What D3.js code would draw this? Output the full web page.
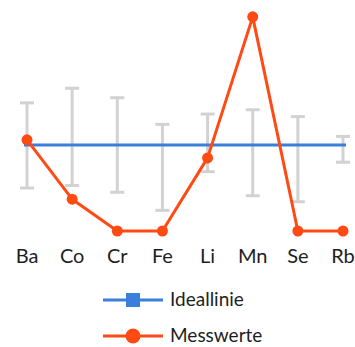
<!DOCTYPE html>
<html>
<head>
<meta charset="utf-8">
<script src="https://cdn.jsdelivr.net/npm/d3@7"></script>
<style>
  body { margin: 0; background: #fff; }
  text { font-family: "Lato", "Noto Sans", sans-serif; fill: #1e1e1e; }
</style>
</head>
<body>
<script>
"use strict"

/* elementi e valori */
const elementi = ["Ba", "Co", "Cr", "Fe", "Li", "Mn", "Se", "Rb"];
const ideale = [1, 1, 1, 1, 1, 1, 1, 1];
const misure = [1.06, 0.37, 0, 0, 0.85, 2.49, 0, 0];
const erroreAlto = [1.49, 1.66, 1.55, 1.24, 1.36, 1.41, 1.33, 1.10];
const erroreBasso = [0.50, 0.53, 0.45, 0.24, 0.69, 0.41, 0.34, 0.80];
const legenda = ["Ideallinie", "Messwerte"];

const blu = "#3a7fdc";
const rosso = "#ff4a14";

const svg = d3.select("body").append("svg")
    .attr("width", 355)
    .attr("height", 347);

const x = d3.scalePoint()
    .domain(elementi)
    .range([27, 343]);

const y = d3.scaleLinear()
    .domain([0, 2.5])
    .range([231, 16]);

/* barre di errore grigie */
const barre = svg.append("g").selectAll("g")
    .data(elementi)
    .enter()
    .append("g")
    .attr("stroke", "#d2d2d2")
    .attr("stroke-width", 3);
barre.append("line")
    .attr("x1", d => x(d)).attr("x2", d => x(d))
    .attr("y1", (d, i) => y(erroreAlto[i]))
    .attr("y2", (d, i) => y(erroreBasso[i]));
barre.append("line")
    .attr("x1", d => x(d) - 7).attr("x2", d => x(d) + 7)
    .attr("y1", (d, i) => y(erroreAlto[i]))
    .attr("y2", (d, i) => y(erroreAlto[i]));
barre.append("line")
    .attr("x1", d => x(d) - 7).attr("x2", d => x(d) + 7)
    .attr("y1", (d, i) => y(erroreBasso[i]))
    .attr("y2", (d, i) => y(erroreBasso[i]));

/* linea ideale */
const linea = d3.line()
    .x((d, i) => x(elementi[i]))
    .y(d => y(d));

svg.append("path")
    .datum(ideale)
    .attr("d", d3.line().x((d, i) => x(elementi[i]) + (i == 0 ? -3 : i == elementi.length - 1 ? 3 : 0)).y(d => y(d)))
    .attr("fill", "none")
    .attr("stroke", blu)
    .attr("stroke-width", 3);

/* misure */
svg.append("path")
    .datum(misure)
    .attr("d", linea)
    .attr("fill", "none")
    .attr("stroke", rosso)
    .attr("stroke-width", 3)
    .attr("stroke-linejoin", "round");

svg.append("g").selectAll("circle")
    .data(misure)
    .enter()
    .append("circle")
    .attr("cx", (d, i) => x(elementi[i]))
    .attr("cy", d => y(d))
    .attr("r", 5.5)
    .attr("fill", rosso);

/* etichette asse x */
svg.append("g").selectAll("text")
    .data(elementi)
    .enter()
    .append("text")
    .attr("x", d => x(d))
    .attr("y", 263)
    .attr("text-anchor", "middle")
    .attr("font-size", 20)
    .text(d => d);

/* legenda */
const voci = svg.append("g").selectAll("g")
    .data(legenda)
    .enter()
    .append("g")
    .attr("transform", (d, i) => "translate(0," + (300 + i * 36) + ")");
voci.append("line")
    .attr("x1", 103).attr("x2", 163)
    .attr("stroke", (d, i) => i == 0 ? blu : rosso)
    .attr("stroke-width", 3);
voci.filter((d, i) => i == 0).append("rect")
    .attr("x", 126).attr("y", -7)
    .attr("width", 14).attr("height", 14)
    .attr("fill", blu);
voci.filter((d, i) => i == 1).append("circle")
    .attr("cx", 133).attr("r", 7.5)
    .attr("fill", rosso);
voci.append("text")
    .attr("x", 170)
    .attr("y", 6)
    .attr("font-size", 19)
    .text(d => d);
</script>
</body>
</html>
